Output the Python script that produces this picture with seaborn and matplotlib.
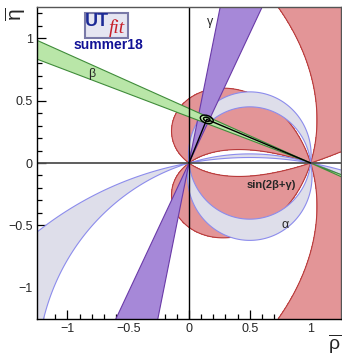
import numpy as np
import pandas as pd
import seaborn as sns
import matplotlib.pyplot as plt
from matplotlib.path import Path
from matplotlib.patches import PathPatch, Polygon, Ellipse, Rectangle
from matplotlib.ticker import MultipleLocator

sns.set_style("white")
plt.rcParams['font.family'] = ['Liberation Sans', 'DejaVu Sans']
plt.rcParams['mathtext.fontset'] = 'custom'
plt.rcParams['mathtext.rm'] = 'Liberation Sans'
plt.rcParams['mathtext.it'] = 'Liberation Sans:italic'

# constraints
beta_band = [20.3, 23.6]        # degrees, wedge opening at (1, 0)
gamma_band = [64.3, 78.4]       # degrees, wedge opening at (0, 0)
alpha_up = [0.45, 0.57]         # heights of alpha arcs at rho = 0.5 (above axis)
alpha_down = [-0.45, -0.62]     # heights of alpha arcs at rho = 0.5 (below axis)
alpha_flat = [0.044, 0.073]     # the nearly flat alpha solutions
sin2bg_min = 0.58               # |sin(2beta+gamma)| lower bound

apex_rho = 0.146
apex_eta = 0.35
ell_width = [0.11, 0.055]
ell_height = [0.062, 0.030]
ell_angle = -18

tri_rho = [0.0, apex_rho, 1.0]
tri_eta = [0.0, apex_eta, 0.0]

ticks = [-1, -0.5, 0, 0.5, 1]
tick_labels = ['\u22121', '\u22120.5', '0', '0.5', '1']

RED = '#e39597'
RED_EDGE = '#b83a3a'
LAV = '#dedeea'
LAV_EDGE = '#8c8cec'
PURPLE = '#a688d8'
PURPLE_EDGE = '#6a3aa8'
GREEN = '#b9e6a8'
GREEN_EDGE = '#3f8c3a'


def circle_through(h):
    # circle through (0,0) and (1,0) whose arc reaches height h at rho = 0.5
    c = (h * h - 0.25) / (2 * h)
    return c, abs(h - c)


def arc(h, n=200):
    c, r = circle_through(h)
    a1 = np.arctan2(-c, 0.5)
    t = np.linspace(a1, np.sign(h) * np.pi - a1, n)
    return np.column_stack([0.5 + r * np.cos(t), c + r * np.sin(t)])


def full_circle(h, ccw=True, n=400):
    c, r = circle_through(h)
    t = np.linspace(0, 2 * np.pi, n)
    if not ccw:
        t = t[::-1]
    return np.column_stack([0.5 + r * np.cos(t), c + r * np.sin(t)])


def wedge(ax, x0, y0, a_lo, a_hi, fc, ec, z, L=5):
    for off in (0, 180):
        lo = np.radians(a_lo + off)
        hi = np.radians(a_hi + off)
        pts = [(x0, y0), (x0 + L * np.cos(lo), y0 + L * np.sin(lo)),
               (x0 + L * np.cos(hi), y0 + L * np.sin(hi))]
        ax.add_patch(Polygon(pts, closed=True, fc=fc, ec=ec, lw=0.8, zorder=z))


fig = plt.figure(figsize=(3.42, 3.58), dpi=100)
ax = fig.add_axes([37 / 342, 39 / 358, 304 / 342, 312 / 358])

# sin(2beta+gamma)
rho = np.linspace(-1.25, 1.25, 700)
R, E = np.meshgrid(rho, rho)
Z = np.abs(np.sin(2 * np.arctan2(E, 1 - R) + np.arctan2(E, R)))
ax.contourf(R, E, Z, levels=[sin2bg_min, 1.01], colors=[RED], zorder=1)
ax.contour(R, E, Z, levels=[sin2bg_min], colors=[RED_EDGE], linewidths=0.8, zorder=1)

# alpha
for hs in (alpha_up, alpha_down):
    pts = np.vstack([arc(hs[1]), arc(hs[0])[::-1]])
    ax.add_patch(Polygon(pts, closed=True, fc=LAV, ec=LAV_EDGE, lw=0.8, zorder=2))
ca = full_circle(alpha_flat[0], True)
cb = full_circle(alpha_flat[1], False)
verts = np.vstack([ca, cb])
codes = ([Path.MOVETO] + [Path.LINETO] * (len(ca) - 1)
         + [Path.MOVETO] + [Path.LINETO] * (len(cb) - 1))
ax.add_patch(PathPatch(Path(verts, codes), fc=LAV, ec=LAV_EDGE, lw=0.8, zorder=2))

# gamma and beta
wedge(ax, 0, 0, gamma_band[0], gamma_band[1], PURPLE, PURPLE_EDGE, 3)
wedge(ax, 1, 0, 180 - beta_band[1], 180 - beta_band[0], GREEN, GREEN_EDGE, 4)

# axes through origin
ax.axhline(0, color='#505050', lw=1.3, zorder=5)
ax.axvline(0, color='black', lw=1.0, zorder=5)

# apex and triangle
for w, h in zip(ell_width, ell_height):
    ax.add_patch(Ellipse((apex_rho, apex_eta), w, h, angle=ell_angle,
                         fc='none', ec='black', lw=1.0, zorder=7))
tri = pd.DataFrame({'rho': tri_rho, 'eta': tri_eta})
sns.lineplot(data=tri, x='rho', y='eta', sort=False, estimator=None,
             color='black', lw=1.0, ax=ax, zorder=6)

ax.text(-0.80, 0.71, '\u03b2', fontsize=9, ha='center', va='center', zorder=8)
ax.text(0.17, 1.13, '\u03b3', fontsize=9, ha='center', va='center', zorder=8)
ax.text(0.79, -0.50, '\u03b1', fontsize=9, ha='center', va='center', zorder=8)
ax.text(0.68, -0.18, 'sin(2\u03b2+\u03b3)', fontsize=8, fontweight='bold',
        ha='center', va='center', zorder=8)

ax.set_xlim(-1.25, 1.25)
ax.set_ylim(-1.25, 1.25)
ax.set_xticks(ticks, tick_labels)
ax.set_yticks(ticks, tick_labels)
ax.xaxis.set_minor_locator(MultipleLocator(0.1))
ax.yaxis.set_minor_locator(MultipleLocator(0.1))
ax.tick_params(which='both', direction='in', bottom=True, left=True,
               top=False, right=False, labelsize=9, pad=3, color='black')
ax.tick_params(which='major', length=6.5, width=0.9)
ax.tick_params(which='minor', length=3.5, width=0.9)
ax.set_xlabel('')
ax.set_ylabel('')
for side in ['left', 'bottom']:
    ax.spines[side].set_color('black')
    ax.spines[side].set_linewidth(1.0)
for side in ['top', 'right']:
    ax.spines[side].set_color('#555555')
    ax.spines[side].set_linewidth(1.0)
for s in ax.spines.values():
    s.set_zorder(10)

fig.text(335 / 342, 14 / 358, r'$\overline{\mathrm{\rho}}$', fontsize=14,
         ha='center', va='center')
fig.text(16 / 342, 1 - 14 / 358, r'$\overline{\mathrm{\eta}}$', fontsize=15,
         rotation=90, ha='center', va='center')

# UTfit logo
fig.patches.append(Rectangle((85 / 342, 1 - 38 / 358), 43 / 342, 25 / 358,
                             transform=fig.transFigure, fc='#e6e6f2',
                             ec='#7a7aa8', lw=1.5, zorder=20))
fig.text(96.5 / 342, 1 - 22 / 358, 'UT', fontsize=13, fontweight='bold',
         color='#1c2a96', ha='center', va='center', zorder=21)
fig.text(117 / 342, 1 - 28 / 358, 'fit', fontsize=14, style='italic',
         family='Liberation Serif', color='#c8202a', ha='center', va='center', zorder=21)
fig.text(108 / 342, 1 - 45 / 358, 'summer18', fontsize=10, fontweight='bold',
         color='#101096', ha='center', va='center', zorder=21)

plt.savefig('out.png', dpi=100)
